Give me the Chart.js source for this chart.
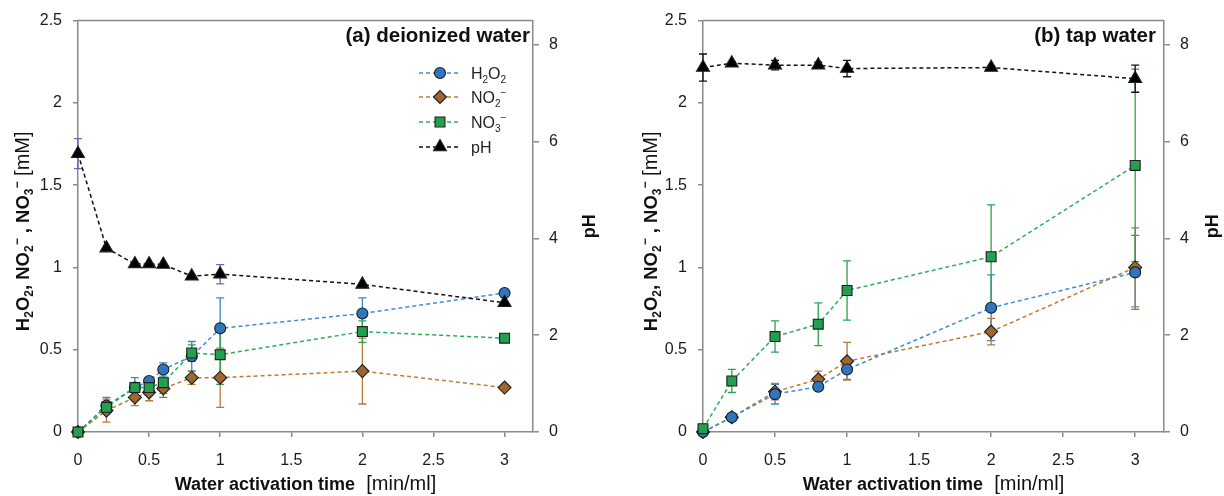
<!DOCTYPE html>
<html><head><meta charset="utf-8">
<script src="https://cdn.jsdelivr.net/npm/chart.js@4.4.1/dist/chart.umd.min.js"></script>
<style>
html,body{margin:0;padding:0;background:#fff;}
#wrap{position:relative;width:1224px;height:496px;overflow:hidden;}
canvas{position:absolute;top:0;}
</style></head><body>
<div id="wrap">
<canvas id="ca" width="612" height="496" style="left:0"></canvas>
<canvas id="cb" width="612" height="496" style="left:612px"></canvas>
</div>
<script>
// ---- data: (a) deionized water ----
const timeA = [0, 0.2, 0.4, 0.5, 0.6, 0.8, 1, 2, 3];
const h2o2A = [0, 0.16, 0.27, 0.31, 0.38, 0.46, 0.63, 0.72, 0.845];
const h2o2ErrA = [0, 0.05, 0.06, 0.02, 0.04, 0.09, 0.185, 0.095, 0];
const no2A = [0, 0.13, 0.21, 0.24, 0.265, 0.33, 0.33, 0.37, 0.27];
const no2ErrA = [0, 0.07, 0.05, 0.05, 0.03, 0.04, 0.18, 0.2, 0];
const no3A = [0, 0.15, 0.27, 0.27, 0.30, 0.48, 0.47, 0.61, 0.57];
const no3ErrA = [0, 0.03, 0.03, 0.03, 0.09, 0.05, 0.18, 0.065, 0];
const phA = [5.75, 3.8, 3.47, 3.47, 3.46, 3.22, 3.26, 3.05, 2.67];
const phErrA = [0.31, 0, 0, 0, 0, 0, 0.2, 0, 0];

// ---- data: (b) tap water ----
const timeB = [0, 0.2, 0.5, 0.8, 1, 2, 3];
const h2o2B = [0, 0.09, 0.23, 0.275, 0.38, 0.755, 0.97];
const h2o2ErrB = [0, 0.01, 0.06, 0.02, 0.06, 0.2, 0.225];
const no2B = [0, 0.09, 0.245, 0.32, 0.43, 0.61, 1.0];
const no2ErrB = [0, 0, 0.05, 0.05, 0.115, 0.08, 0.24];
const no3B = [0.02, 0.31, 0.58, 0.655, 0.86, 1.065, 1.62];
const no3ErrB = [0, 0.07, 0.095, 0.13, 0.18, 0.315, 0.585];
const phB = [7.53, 7.62, 7.58, 7.58, 7.51, 7.53, 7.3];
const phErrB = [0.28, 0.03, 0.1, 0.06, 0.17, 0.03, 0.28];

// ---- axes ----
const xTickStep = 0.5, xMin = 0, xMax = 3.2;
const yMin = 0, yMax = 2.5, yStep = 0.5;
const pHMin = 0, pHMax = 8.5, pHStep = 2;

const FONT = "'Liberation Sans', Arial, sans-serif";
const AXIS = '#8a8a8a';

const S = {
  h2o2: {fill:'#2f76bf', line:'#3a8fd8', err:'#3a86c8', style:'circle', r:5.5, order:2},
  no2:  {fill:'#9e6630', line:'#bd7b33', err:'#b57a3c', style:'rectRot', r:6.5, order:3},
  no3:  {fill:'#23a04f', line:'#2aae55', err:'#2ca24c', style:'rect', r:7, order:1},
  ph:   {fill:'#000000', line:'#111111', err:'#111111', style:'triangle', r:7.5, order:0}
};

function pts(xs, ys){ return xs.map((x,i)=>({x:x, y:ys[i]})); }

function ds(label, key, xs, ys, errs, axis, errColor){
  const s = S[key];
  return {
    label, data: pts(xs, ys), yAxisID: axis, order: s.order, clip: false,
    borderColor: s.line, borderWidth: 1.5, borderDash: [4,3],
    pointStyle: s.style, pointRadius: s.r, pointHoverRadius: s.r,
    pointBackgroundColor: s.fill, pointBorderColor: '#1e1e1e', pointBorderWidth: 1.1,
    fill: false, tension: 0,
    errors: errs, errorColor: errColor || s.err
  };
}

const errorBars = {
  id: 'errorBars',
  beforeDatasetsDraw(chart){
    const ctx = chart.ctx, xs = chart.scales.x;
    chart.data.datasets.forEach(d => {
      if(!d.errors) return;
      const ys = chart.scales[d.yAxisID];
      ctx.save();
      ctx.strokeStyle = d.errorColor; ctx.lineWidth = 1.3;
      d.data.forEach((p,j) => {
        const e = d.errors[j]; if(!e) return;
        const px = xs.getPixelForValue(p.x);
        const y1 = ys.getPixelForValue(p.y + e), y2 = ys.getPixelForValue(p.y - e);
        ctx.beginPath();
        ctx.moveTo(px, y1); ctx.lineTo(px, y2);
        ctx.moveTo(px-4, y1); ctx.lineTo(px+4, y1);
        ctx.moveTo(px-4, y2); ctx.lineTo(px+4, y2);
        ctx.stroke();
      });
      ctx.restore();
    });
  }
};

function marker(ctx, style, x, y, r){
  ctx.beginPath();
  if(style==='circle'){ ctx.arc(x,y,r,0,Math.PI*2); }
  else if(style==='rect'){ const h=r*Math.SQRT1_2; ctx.rect(x-h,y-h,2*h,2*h); }
  else if(style==='rectRot'){ ctx.moveTo(x-r,y); ctx.lineTo(x,y-r); ctx.lineTo(x+r,y); ctx.lineTo(x,y+r); ctx.closePath(); }
  else if(style==='triangle'){
    ctx.moveTo(x, y-r);
    ctx.lineTo(x + r*Math.sin(2*Math.PI/3), y - r*Math.cos(2*Math.PI/3));
    ctx.lineTo(x + r*Math.sin(4*Math.PI/3), y - r*Math.cos(4*Math.PI/3));
    ctx.closePath();
  }
  ctx.fill(); ctx.stroke();
}

// rich text: runs [{t, b, sub, sup, size}]
function runFont(r, size){
  const base = r.size || size;
  const s = (r.sub||r.sup) ? Math.round(base*0.65) : base;
  return (r.b ? 'bold ' : '') + s + 'px ' + FONT;
}
function richWidth(ctx, runs, size){
  let w = 0;
  runs.forEach(r => { ctx.font = runFont(r, size); w += ctx.measureText(r.t).width; });
  return w;
}
function drawRich(ctx, runs, x, y, size, align){
  const w = richWidth(ctx, runs, size);
  let cx = align==='center' ? x - w/2 : (align==='right' ? x - w : x);
  ctx.textAlign = 'left'; ctx.textBaseline = 'alphabetic';
  runs.forEach(r => {
    ctx.font = runFont(r, size);
    let dy = 0;
    if(r.sub) dy = size*0.22;
    if(r.sup) dy = -size*0.42;
    ctx.fillText(r.t, cx, y + dy);
    cx += ctx.measureText(r.t).width;
  });
}

const yTitleRuns = [
  {t:'H',b:1},{t:'2',b:1,sub:1},{t:'O',b:1},{t:'2',b:1,sub:1},{t:', NO',b:1},{t:'2',b:1,sub:1},{t:'\u2212',b:1,sup:1},
  {t:' , NO',b:1},{t:'3',b:1,sub:1},{t:'\u2212',b:1,sup:1},{t:' [mM]', size:20}
];
const xTitleRuns = [{t:'Water activation time',b:1},{t:'  [min/ml]', size:20}];

const legendItems = [
  {key:'h2o2', runs:[{t:'H'},{t:'2',sub:1},{t:'O'},{t:'2',sub:1}]},
  {key:'no2', runs:[{t:'NO'},{t:'2',sub:1},{t:'\u2212',sup:1}]},
  {key:'no3', runs:[{t:'NO'},{t:'3',sub:1},{t:'\u2212',sup:1}]},
  {key:'ph', runs:[{t:'pH'}]}
];

function decorations(cfg){
  return {
    id: 'decor',
    beforeDatasetsDraw(chart){
      const ctx = chart.ctx, a = chart.chartArea;
      ctx.save();
      ctx.strokeStyle = AXIS; ctx.lineWidth = 1.5;
      ctx.beginPath(); ctx.moveTo(a.left, a.top); ctx.lineTo(a.right, a.top); ctx.stroke();
      ctx.restore();
    },
    afterDraw(chart){
      const ctx = chart.ctx, a = chart.chartArea;
      ctx.save();
      ctx.fillStyle = '#111';
      // panel title
      ctx.font = 'bold 20.5px ' + FONT; ctx.textAlign = 'right'; ctx.textBaseline = 'alphabetic';
      ctx.fillText(cfg.title, a.right - cfg.titlePad, 42);
      // x title
      drawRich(ctx, xTitleRuns, (a.left + a.right)/2, 490, 18, 'center');
      // y title
      ctx.save(); ctx.translate(cfg.yTitleX, (a.top + a.bottom)/2 + 5); ctx.rotate(-Math.PI/2);
      drawRich(ctx, yTitleRuns, 0, 6, 18.5, 'center');
      ctx.restore();
      // pH title
      ctx.save(); ctx.translate(cfg.phTitleX, (a.top + a.bottom)/2); ctx.rotate(-Math.PI/2);
      ctx.font = 'bold 18px ' + FONT; ctx.textAlign = 'center'; ctx.textBaseline = 'middle';
      ctx.fillText('pH', 0, 0);
      ctx.restore();
      // legend
      if(cfg.legend){
        const rows = [73, 97, 122, 147];
        legendItems.forEach((it, i) => {
          const s = S[it.key], y = rows[i];
          ctx.save();
          ctx.strokeStyle = s.line; ctx.lineWidth = 1.5; ctx.setLineDash([4,3]);
          ctx.beginPath(); ctx.moveTo(419, y); ctx.lineTo(459, y); ctx.stroke();
          ctx.setLineDash([]);
          ctx.fillStyle = s.fill; ctx.strokeStyle = '#1e1e1e'; ctx.lineWidth = 1.1;
          marker(ctx, s.style, 440, y, s.r);
          ctx.restore();
          ctx.fillStyle = '#222';
          drawRich(ctx, it.runs, 471, y + 6, 16, 'left');
        });
      }
      ctx.restore();
    }
  };
}

const fmt = v => String(Math.round(v * 100) / 100);

function makeChart(id, cfg){
  const tickFont = {family: FONT, size: 16};
  return new Chart(document.getElementById(id), {
    type: 'line',
    data: { datasets: [
      ds('H2O2', 'h2o2', cfg.t, cfg.h2o2, cfg.h2o2Err, 'y'),
      ds('NO2-', 'no2', cfg.t, cfg.no2, cfg.no2Err, 'y'),
      ds('NO3-', 'no3', cfg.t, cfg.no3, cfg.no3Err, 'y'),
      ds('pH', 'ph', cfg.t, cfg.ph, cfg.phErr, 'y2', cfg.phErrColor)
    ]},
    options: {
      responsive: false, animation: false,
      layout: { padding: { top: 17, left: 0, right: 0, bottom: 0 } },
      plugins: { legend: {display:false}, tooltip: {enabled:false} },
      scales: {
        x: {
          type: 'linear', position: 'bottom', min: xMin, max: xMax,
          ticks: { stepSize: xTickStep, includeBounds: false, font: tickFont, color: '#1a1a1a', padding: 14, maxRotation: 0, callback: fmt },
          grid: { drawOnChartArea: false, drawTicks: true, tickLength: 5, color: AXIS, lineWidth: 1.5 },
          border: { display: true, color: AXIS, width: 1.5 },
          afterFit: s => { s.height = 64; }
        },
        y: {
          type: 'linear', position: 'left', min: yMin, max: yMax,
          ticks: { stepSize: yStep, includeBounds: false, font: tickFont, color: '#1a1a1a', padding: 11, callback: fmt },
          grid: { drawOnChartArea: false, drawTicks: true, tickLength: 5, color: AXIS, lineWidth: 1.5 },
          border: { display: true, color: AXIS, width: 1.5 },
          afterFit: s => { s.width = cfg.yW; }
        },
        y2: {
          type: 'linear', position: 'right', min: pHMin, max: pHMax,
          ticks: { stepSize: pHStep, includeBounds: false, font: tickFont, color: '#1a1a1a', padding: 10, callback: fmt },
          grid: { drawOnChartArea: false, drawTicks: true, tickLength: 6, color: AXIS, lineWidth: 1.5 },
          border: { display: true, color: AXIS, width: 1.5 },
          afterFit: s => { s.width = cfg.y2W; }
        }
      }
    },
    plugins: [errorBars, decorations(cfg)]
  });
}

makeChart('ca', {
  t: timeA, h2o2: h2o2A, h2o2Err: h2o2ErrA, no2: no2A, no2Err: no2ErrA,
  no3: no3A, no3Err: no3ErrA, ph: phA, phErr: phErrA, phErrColor: '#6a68b4',
  yW: 78, y2W: 79, title: '(a) deionized water', titlePad: 3, yTitleX: 23, phTitleX: 590, legend: true
});
makeChart('cb', {
  t: timeB, h2o2: h2o2B, h2o2Err: h2o2ErrB, no2: no2B, no2Err: no2ErrB,
  no3: no3B, no3Err: no3ErrB, ph: phB, phErr: phErrB, phErrColor: '#111111',
  yW: 91, y2W: 60, title: '(b) tap water', titlePad: 8, yTitleX: 39, phTitleX: 601, legend: false
});
</script>
</body></html>
